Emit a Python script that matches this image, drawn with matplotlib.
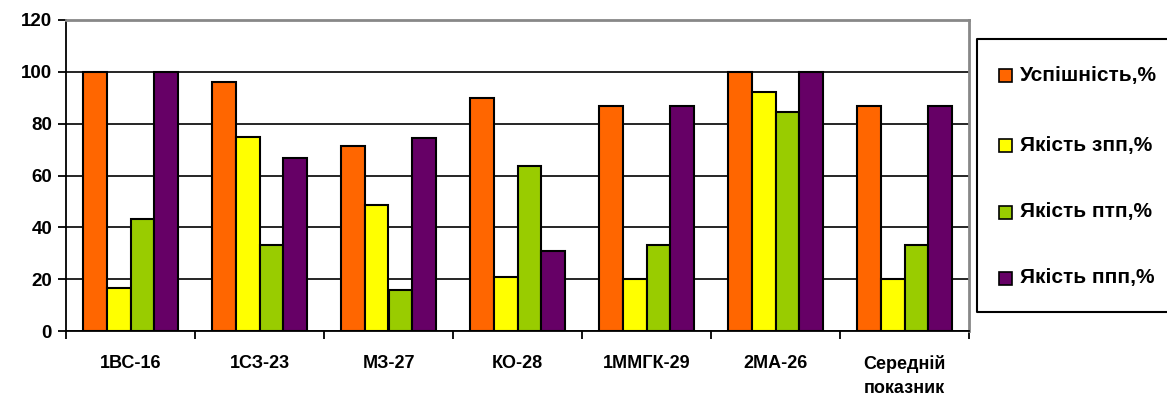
import numpy as np
import matplotlib
matplotlib.use("Agg")
import matplotlib.pyplot as plt
from matplotlib.patches import Rectangle
from matplotlib.lines import Line2D

plt.rcParams['font.family'] = ['Liberation Sans', 'DejaVu Sans']
plt.rcParams['font.weight'] = 'bold'

# Data
groups = ['1ВС-16', '1СЗ-23', 'МЗ-27', 'КО-28', '1ММГК-29', '2МА-26', 'Середній\nпоказник']
series = ['Успішність,%', 'Якість зпп,%', 'Якість птп,%', 'Якість ппп,%']
uspishnist = [100, 96, 71.4, 90, 86.7, 100, 86.7]
yakist_zpp = [16.7, 75, 48.6, 20.8, 20, 92.3, 20]
yakist_ptp = [43.3, 33.3, 16, 63.6, 33.3, 84.6, 33.3]
yakist_ppp = [100, 66.7, 74.3, 31, 86.7, 100, 86.7]
colors = ['#FF6600', '#FFFF00', '#99CC00', '#660066']

values = [uspishnist, yakist_zpp, yakist_ptp, yakist_ppp]

W, H = 1167, 401
fig = plt.figure(figsize=(W / 100, H / 100), dpi=100)
ax = fig.add_axes([66 / W, (H - 331) / H, 903 / W, 311 / H])

x = np.arange(len(groups))
bw = 0.186
for i, (vals, c) in enumerate(zip(values, colors)):
    ax.bar(x + (i - 1.5) * bw, vals, bw, color=c, edgecolor='black', linewidth=1.5, zorder=3)

ax.set_xlim(-0.5, len(groups) - 0.5)
ax.set_ylim(0, 120)
ax.set_yticks(range(0, 121, 20))
ax.yaxis.grid(True, color='black', linewidth=1.2, zorder=0)
ax.tick_params(axis='y', labelsize=13.5, length=6, width=1.3, direction='out', pad=4)

# category boundaries as major ticks, labels at minor
ax.set_xticks(np.arange(-0.5, len(groups), 1.0))
ax.set_xticklabels([])
ax.set_xticks(x, minor=True)
ax.set_xticklabels(groups, minor=True, fontsize=13, linespacing=1.6)
ax.tick_params(axis='x', which='major', length=6, width=1.3)
ax.tick_params(axis='x', which='minor', length=0, pad=17)

for s in ['left', 'bottom']:
    ax.spines[s].set_color('black')
    ax.spines[s].set_linewidth(1.3)
for s in ['top', 'right']:
    ax.spines[s].set_color('#888888')
    ax.spines[s].set_linewidth(2)

# legend box, open at the right (cut by the image edge like the original)
lx, ty, by = 977 / W, (H - 39) / H, (H - 312) / H
fig.lines.append(Line2D([1.05, lx, lx, 1.05], [ty, ty, by, by], transform=fig.transFigure,
                        color='black', linewidth=1.5))
ys = [75, 145, 212, 278]
for lab, c, yy in zip(series, colors, ys):
    fig.patches.append(Rectangle((999 / W, (H - yy - 7) / H), 13 / W, 13 / H,
                                 transform=fig.transFigure, facecolor=c,
                                 edgecolor='black', linewidth=1.2))
    fig.text(1020 / W, (H - yy) / H, lab, fontsize=15, fontweight='bold', va='center', ha='left')

fig.savefig('out.png', dpi=100)
